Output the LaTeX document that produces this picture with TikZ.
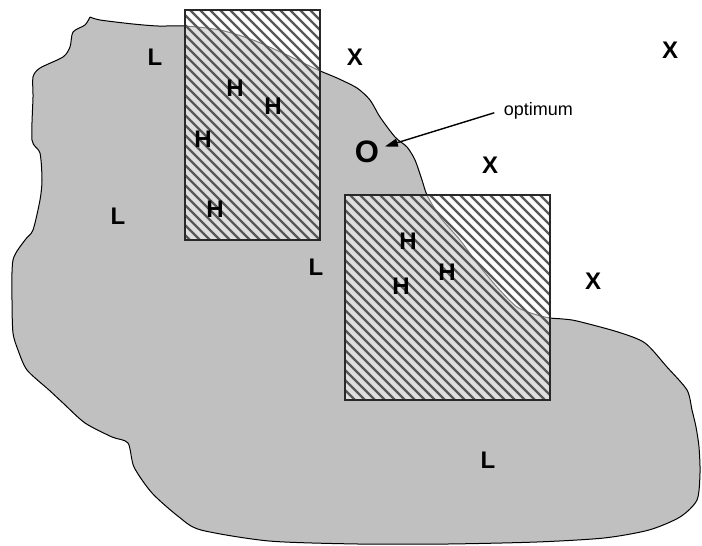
\documentclass[tikz,border=0pt]{standalone}
\usepackage{fontspec}
\setmainfont{Liberation Sans}
\usetikzlibrary{arrows.meta}
\definecolor{blob}{RGB}{192,192,192}
\definecolor{hatch}{RGB}{88,88,88}
\definecolor{frame}{RGB}{40,40,40}

\begin{document}
\begin{tikzpicture}[x=1pt, y=-1pt, line width=1.1pt,
    letter/.style={font=\fontsize{24}{24}\selectfont\bfseries},
    hatchline/.style={hatch, line width=2.3pt},
    pointer/.style={-{Triangle[length=13pt,width=8pt]}, line width=1.4pt, shorten <=6pt, shorten >=2pt}]
  \useasboundingbox (0,0) rectangle (702,546);
  % feasible region
  \draw[fill=blob, line width=1pt] plot[smooth, tension=0.45] coordinates {
    (90,17) (100,20) (133,24) (158,26) (185,26) (220,30) (253,40) (287,55)
    (318,70) (337,78) (357,88) (370,100) (380,117) (395,137) (407,147) (415,160)
    (422,180) (427,195) (440,217) (460,240) (477,263) (497,287) (517,307) (537,315)
    (550,318) (563,319) (577,321) (618,332) (645,343) (667,367) (687,390) (692,410)
    (696,427) (699,447) (700,473) (697,500) (680,517) (649,530) (604,538) (537,542)
    (448,544) (358,544) (269,541) (201,530) (179,517) (152,493) (134,467) (128,443)
    (112,437) (85,423) (63,403) (49,390) (27,370) (18,350) (13,333) (12,300)
    (13,260) (25,240) (33,230) (40,200) (42,180) (40,153) (32,140) (33,97)
    (33,77) (40,68) (63,57) (70,47) (73,32) (85,25) (90,17)};
  % first window
  \fill[white, opacity=0.5] (185,10) rectangle (320,240);
  \begin{scope}
    \clip (185,10) rectangle (320,240);
    \foreach \k in {-50,-40,...,320} \draw[hatchline] (\k,10) -- ++(240,240);
  \end{scope}
  \draw[frame, line width=1.4pt] (185,10) rectangle (320,240);
  % second window
  \fill[white, opacity=0.5] (345,195) rectangle (550,400);
  \begin{scope}
    \clip (345,195) rectangle (550,400);
    \foreach \k in {130,140,...,550} \draw[hatchline] (\k,195) -- ++(215,215);
  \end{scope}
  \draw[frame, line width=1.4pt] (345,195) rectangle (550,400);
  % low points
  \node[letter] (l1) at (155,57) {L};
  \node[letter] (l2) at (118,216) {L};
  \node[letter] (l3) at (316,267) {L};
  \node[letter] (l4) at (488,460) {L};
  % infeasible points
  \node[letter] (x1) at (355,57) {X};
  \node[letter] (x2) at (670,50) {X};
  \node[letter] (x3) at (490,165) {X};
  \node[letter] (x4) at (593,281) {X};
  % high points
  \node[letter] (h1) at (235,88) {H};
  \node[letter] (h2) at (273,106) {H};
  \node[letter] (h3) at (203,139) {H};
  \node[letter] (h4) at (215,209) {H};
  \node[letter] (h5) at (408,241) {H};
  \node[letter] (h6) at (447,272) {H};
  \node[letter] (h7) at (401,286) {H};
  % optimum
  \node[font=\fontsize{31}{31}\selectfont\bfseries] (opt) at (367,152) {O};
  \node[anchor=west, font=\fontsize{18}{18}\selectfont] (optlabel) at (500,111) {optimum};
  \draw[pointer] (optlabel.west) -- (opt);
\end{tikzpicture}
\end{document}
